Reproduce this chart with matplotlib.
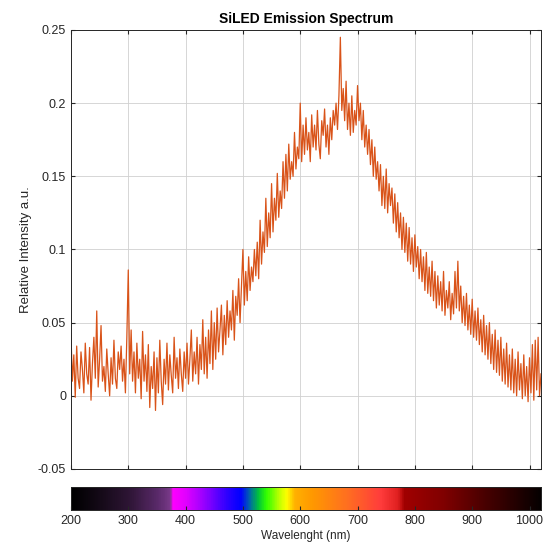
import numpy as np
import matplotlib
matplotlib.use("Agg")
import matplotlib.pyplot as plt
from matplotlib.colors import LinearSegmentedColormap

plt.rcParams['font.family'] = ['Liberation Sans', 'DejaVu Sans']

# wavelength grid (nm), 2.5 nm steps, and intensity
wavelength = np.arange(200, 1020.1, 2.5)
intensity = [
    0.042, 0.010, 0.028, -0.001,   # 200
    0.034, 0.012, 0.005, 0.030,
    0.018, 0.002, 0.036, 0.015,
    0.008, 0.033, -0.003, 0.022,
    0.040, 0.012, 0.058, 0.006,
    0.025, 0.048, 0.010, 0.020,    # 250
    0.003, 0.032, 0.015, 0.000,
    0.026, 0.008, 0.038, 0.012,
    0.005, 0.030, 0.018, 0.034,
    0.010, 0.025, 0.002, 0.040,
    0.086, 0.015, 0.045, 0.010,    # 300
    0.030, 0.002, 0.036, 0.012,
    0.025, -0.002, 0.044, 0.010,
    0.028, 0.003, 0.035, -0.008,
    0.020, 0.005, 0.030, -0.010,
    0.026, 0.002, 0.038, 0.010,    # 350
    -0.006, 0.025, 0.008, 0.036,
    0.004, 0.028, 0.014, 0.002,
    0.040, 0.012, 0.026, 0.005,
    0.032, 0.015, 0.003, 0.030,
    0.012, 0.036, 0.008, 0.025,    # 400
    0.045, 0.010, 0.030, 0.015,
    0.040, 0.008, 0.035, 0.018,
    0.052, 0.015, 0.040, 0.012,
    0.045, 0.022, 0.058, 0.018,
    0.050, 0.025, 0.060, 0.030,    # 450
    0.045, 0.062, 0.028, 0.055,
    0.035, 0.065, 0.040, 0.058,
    0.045, 0.072, 0.038, 0.068,
    0.055, 0.080, 0.050, 0.075,
    0.100, 0.062, 0.085, 0.065,    # 500
    0.095, 0.072, 0.088, 0.078,
    0.100, 0.082, 0.105, 0.080,
    0.120, 0.090, 0.112, 0.098,
    0.135, 0.102, 0.125, 0.108,
    0.145, 0.112, 0.135, 0.120,    # 550
    0.152, 0.122, 0.140, 0.128,
    0.160, 0.135, 0.165, 0.140,
    0.172, 0.148, 0.160, 0.150,
    0.180, 0.155, 0.170, 0.162,
    0.200, 0.160, 0.185, 0.165,    # 600
    0.190, 0.168, 0.180, 0.160,
    0.192, 0.170, 0.185, 0.168,
    0.195, 0.172, 0.162, 0.188,
    0.178, 0.196, 0.170, 0.185,
    0.165, 0.190, 0.175, 0.195,    # 650
    0.185, 0.200, 0.182, 0.205,
    0.245, 0.195, 0.210, 0.188,
    0.215, 0.182, 0.200, 0.178,
    0.205, 0.180, 0.195, 0.185,
    0.212, 0.188, 0.200, 0.175,    # 700
    0.195, 0.170, 0.185, 0.165,
    0.182, 0.158, 0.175, 0.150,
    0.170, 0.148, 0.160, 0.140,
    0.158, 0.130, 0.150, 0.128,
    0.155, 0.125, 0.145, 0.130,    # 750
    0.142, 0.118, 0.138, 0.112,
    0.132, 0.108, 0.125, 0.100,
    0.122, 0.098, 0.118, 0.092,
    0.115, 0.090, 0.108, 0.085,
    0.110, 0.088, 0.102, 0.080,    # 800
    0.100, 0.078, 0.095, 0.072,
    0.098, 0.070, 0.088, 0.068,
    0.092, 0.065, 0.085, 0.060,
    0.082, 0.062, 0.078, 0.058,
    0.085, 0.055, 0.072, 0.060,    # 850
    0.078, 0.052, 0.070, 0.056,
    0.085, 0.060, 0.092, 0.058,
    0.075, 0.050, 0.068, 0.048,
    0.070, 0.045, 0.062, 0.042,
    0.066, 0.040, 0.058, 0.038,    # 900
    0.060, 0.035, 0.052, 0.030,
    0.055, 0.028, 0.048, 0.025,
    0.050, 0.022, 0.042, 0.018,
    0.045, 0.016, 0.038, 0.014,
    0.040, 0.010, 0.032, 0.008,    # 950
    0.036, 0.006, 0.028, 0.004,
    0.032, 0.002, 0.025, 0.000,
    0.030, 0.004, 0.022, -0.002,
    0.028, 0.000, 0.020, -0.004,
    0.026, 0.002, 0.035, -0.003,   # 1000
    0.038, 0.004, 0.040, 0.000,
    0.015,
]

y_ticks = [-0.05, 0, 0.05, 0.1, 0.15, 0.2, 0.25]
y_tick_labels = ['-0.05', '0', '0.05', '0.1', '0.15', '0.2', '0.25']
x_ticks = [200, 300, 400, 500, 600, 700, 800, 900, 1000]

# visible spectrum strip (nm, colour)
spec_nodes = [
    (200, '#000000'), (250, '#150a18'), (300, '#2e1535'), (350, '#5a2a6a'),
    (372, '#7a3a8a'), (376, '#ff00ff'), (400, '#e000ff'), (430, '#9a00ff'),
    (470, '#3000ff'), (495, '#0000ff'), (510, '#0060b0'), (525, '#00c040'),
    (540, '#30ff00'), (560, '#b0ff00'), (575, '#ffff00'), (590, '#ffb000'),
    (620, '#ff9900'), (680, '#ff7020'), (740, '#ff3c3c'), (770, '#e02020'),
    (782, '#a00000'), (850, '#800000'), (920, '#4a0000'), (1020, '#050000'),
]

fig = plt.figure(figsize=(5.5, 5.52), dpi=100)
ax = fig.add_axes([0.129, 0.1504, 0.8546, 0.7953])
ax.plot(wavelength, intensity, color='#D95319', linewidth=0.9)
ax.set_xlim(200, 1020)
ax.set_ylim(-0.05, 0.25)
ax.set_xticks(x_ticks)
ax.set_xticklabels([])
ax.set_yticks(y_ticks)
ax.set_yticklabels(y_tick_labels)
ax.grid(True, color='#d0d0d0', linewidth=0.6)
ax.tick_params(direction='in', top=True, right=True, length=3,
               labelsize=9, colors='#262626')
for s in ax.spines.values():
    s.set_color('#262626')
    s.set_linewidth(0.7)
ax.set_ylabel('Relative Intensity a.u.', fontsize=9.5, color='#262626')
ax.set_title('SiLED Emission Spectrum', fontsize=10, fontweight='bold', pad=5)

lo, hi = spec_nodes[0][0], spec_nodes[-1][0]
cmap = LinearSegmentedColormap.from_list(
    'spec', [((w - lo) / (hi - lo), c) for w, c in spec_nodes])
cax = fig.add_axes([0.129, 0.0761, 0.8546, 0.0417])
grad = np.linspace(lo, hi, 800)[None, :]
cax.imshow(grad, aspect='auto', cmap=cmap, extent=[lo, hi, 0, 1])
cax.set_xlim(200, 1020)
cax.set_yticks([])
cax.set_xticks(x_ticks)
cax.tick_params(direction='in', length=3, labelsize=9, colors='#262626')
for s in cax.spines.values():
    s.set_color('#262626')
    s.set_linewidth(0.7)
cax.set_xlabel('Wavelenght (nm)', fontsize=8.5, color='#262626', labelpad=2)

fig.savefig('out.png', dpi=100)
